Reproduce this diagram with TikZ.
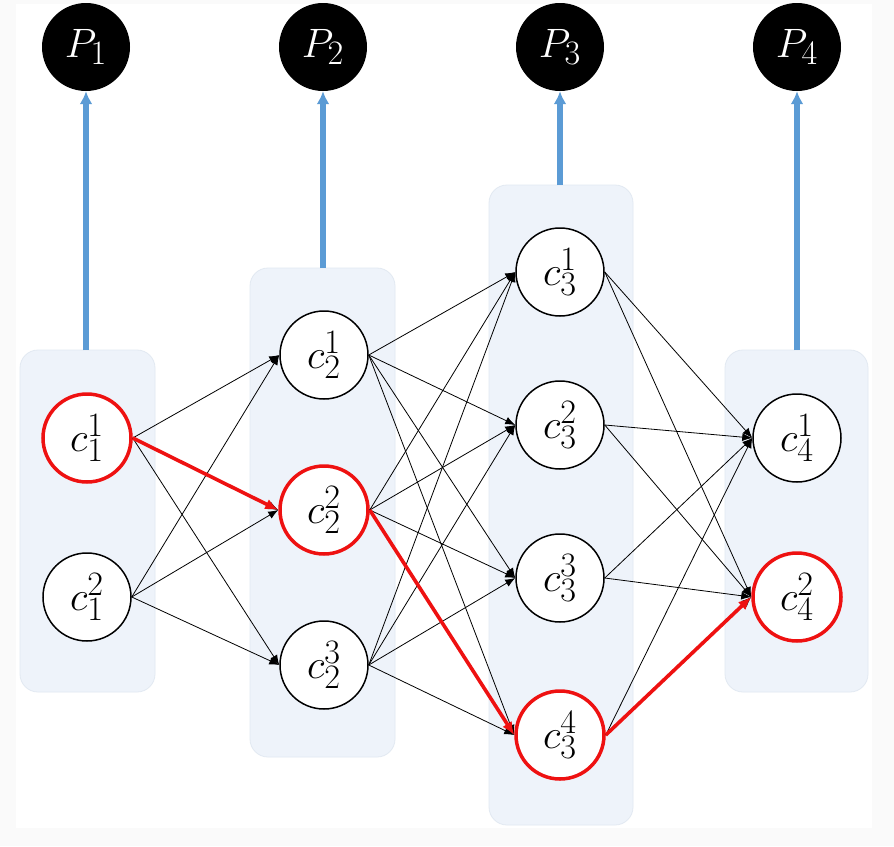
\documentclass[tikz,border=0pt]{standalone}
\usepackage{graphicx}
\usetikzlibrary{arrows.meta}
\definecolor{bgout}{HTML}{FAFAFA}
\definecolor{boxfill}{HTML}{EEF3FA}
\definecolor{boxline}{HTML}{E2E9F2}
\definecolor{pblue}{HTML}{5B9BD5}
\definecolor{pred}{HTML}{EE1111}
\newcommand{\lbl}[1]{\scalebox{1.65}{$#1$}}
\begin{document}
\begin{tikzpicture}[x=1pt,y=-1pt,
  cnode/.style={circle,draw=black,line width=1.5pt,fill=white,minimum size=88pt,inner sep=0pt,font=\Huge},
  rnode/.style={cnode,draw=pred,line width=3.5pt},
  pnode/.style={circle,fill=black,minimum size=88pt,inner sep=0pt,text=white,font=\Huge},
  colbox/.style={rounded corners=18pt,fill=boxfill,draw=boxline,line width=0.8pt},
  edge/.style={-{Latex[length=10pt,width=8pt]},line width=0.8pt,black},
  redge/.style={-{Latex[length=13pt,width=11pt]},line width=3.6pt,pred},
  bedge/.style={-{Latex[length=13pt,width=13pt]},line width=5.5pt,pblue}]
\fill[bgout] (0,0) rectangle (894,846);
\fill[white] (16,4) rectangle (872,828);
\useasboundingbox (0,0) rectangle (894,846);
% column boxes
\draw[colbox] (20,350) rectangle (155,692);
\draw[colbox] (250,268) rectangle (395,757);
\draw[colbox] (489,185) rectangle (633,825);
\draw[colbox] (725,350) rectangle (868,692);
\coordinate (b1) at (86,350);
\coordinate (b2) at (323,268);
\coordinate (b3) at (560,185);
\coordinate (b4) at (797,350);
% top nodes
\node[pnode] (P1) at (86,47) {\lbl{P_1}};
\node[pnode] (P2) at (323,47) {\lbl{P_2}};
\node[pnode] (P3) at (560,47) {\lbl{P_3}};
\node[pnode] (P4) at (797,47) {\lbl{P_4}};
\foreach \i in {1,2,3,4} \draw[bedge] (b\i) -- (P\i.south);
% c nodes
\node[rnode] (c11) at (87,438) {\lbl{c_1^1}};
\node[cnode] (c12) at (87,597) {\lbl{c_1^2}};
\node[cnode] (c21) at (324,355) {\lbl{c_2^1}};
\node[rnode] (c22) at (324,510) {\lbl{c_2^2}};
\node[cnode] (c23) at (324,665) {\lbl{c_2^3}};
\node[cnode] (c31) at (560,272) {\lbl{c_3^1}};
\node[cnode] (c32) at (560,425) {\lbl{c_3^2}};
\node[cnode] (c33) at (560,578) {\lbl{c_3^3}};
\node[rnode] (c34) at (560,735) {\lbl{c_3^4}};
\node[cnode] (c41) at (797,438) {\lbl{c_4^1}};
\node[rnode] (c42) at (797,597) {\lbl{c_4^2}};
% black edges
\foreach \a in {1,2} \foreach \b in {1,2,3} \draw[edge] (c1\a.east) -- (c2\b.west);
\foreach \a in {1,2,3} \foreach \b in {1,2,3,4} \draw[edge] (c2\a.east) -- (c3\b.west);
\foreach \a in {1,2,3,4} \foreach \b in {1,2} \draw[edge] (c3\a.east) -- (c4\b.west);
% red path
\draw[redge] (c11.east) -- (c22.west);
\draw[redge] (c22.east) -- (c34.west);
\draw[redge] (c34.east) -- (c42.west);
\end{tikzpicture}
\end{document}
